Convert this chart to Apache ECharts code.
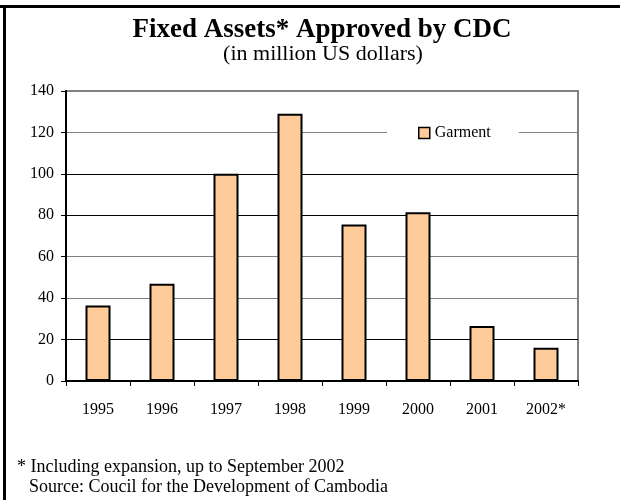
<!DOCTYPE html>
<html>
<head>
<meta charset="utf-8">
<script src="https://cdn.jsdelivr.net/npm/echarts@6/dist/echarts.min.js"></script>
<style>
html,body{margin:0;padding:0;background:#fff;}
#chart{width:620px;height:500px;}
</style>
</head>
<body>
<div id="chart"></div>
<script>
var categories = ['1995', '1996', '1997', '1998', '1999', '2000', '2001', '2002*'];
var garment = [36.5, 47, 100, 129, 75.5, 81.5, 26.5, 16];
var yTicks = [0, 20, 40, 60, 80, 100, 120, 140];
var seriesName = 'Garment';
var titleText = 'Fixed Assets* Approved by CDC';
var subtitleText = '(in million US dollars)';
var noteText = '* Including expansion, up to September 2002';
var sourceText = 'Source: Coucil for the Development of Cambodia';

var FONT = '"Liberation Serif", "Times New Roman", serif';
var chart = echarts.init(document.getElementById('chart'), null, {renderer: 'canvas'});
chart.setOption({
  animation: false,
  backgroundColor: '#fff',
  grid: {
    left: 66, right: 42, top: 91, bottom: 119,
    show: true, borderColor: '#808080', borderWidth: 2, backgroundColor: 'transparent'
  },
  legend: {
    data: [{name: seriesName, icon: 'rect'}],
    left: 387, top: 121,
    padding: [4, 28, 4, 31],
    backgroundColor: '#fff',
    itemWidth: 11, itemHeight: 11,
    textStyle: {fontFamily: FONT, fontSize: 16, color: '#000'},
    itemStyle: {borderColor: '#000', borderWidth: 1.5}
  },
  xAxis: {
    type: 'category',
    data: categories,
    axisLine: {lineStyle: {color: '#000', width: 2}},
    axisTick: {show: true, length: 5, lineStyle: {color: '#000', width: 1}},
    axisLabel: {fontFamily: FONT, fontSize: 16, color: '#000', margin: 21}
  },
  yAxis: {
    type: 'value',
    min: yTicks[0], max: yTicks[yTicks.length - 1], interval: 20,
    axisLine: {show: true, lineStyle: {color: '#000', width: 2}},
    axisTick: {show: true, length: 5, lineStyle: {color: '#000', width: 1}},
    axisLabel: {fontFamily: FONT, fontSize: 16, color: '#000', margin: 12},
    splitLine: {show: true, lineStyle: {color: ['#000', '#000', '#808080', '#808080', '#000', '#000', '#808080', '#808080'], width: 1.2}}
  },
  series: [{
    name: seriesName,
    type: 'bar',
    data: garment,
    barWidth: 25,
    itemStyle: {color: '#FFCC99', borderColor: '#000', borderWidth: 2}
  }],
  graphic: [
    {type: 'rect', shape: {x: 0, y: 5, width: 620, height: 3}, style: {fill: '#000'}, z: 100},
    {type: 'rect', shape: {x: 3, y: 5, width: 3, height: 495}, style: {fill: '#000'}, z: 100},
    {type: 'text', x: 322, y: 30, style: {text: titleText, font: 'bold 27px ' + FONT, fill: '#000', textAlign: 'center', textVerticalAlign: 'middle'}},
    {type: 'text', x: 323, y: 54, style: {text: subtitleText, font: '22px ' + FONT, fill: '#000', textAlign: 'center', textVerticalAlign: 'middle'}},
    {type: 'text', x: 17, y: 467, style: {text: noteText, font: '18px ' + FONT, fill: '#000', textAlign: 'left', textVerticalAlign: 'middle'}},
    {type: 'text', x: 29, y: 487, style: {text: sourceText, font: '18px ' + FONT, fill: '#000', textAlign: 'left', textVerticalAlign: 'middle'}}
  ]
});
</script>
</body>
</html>
